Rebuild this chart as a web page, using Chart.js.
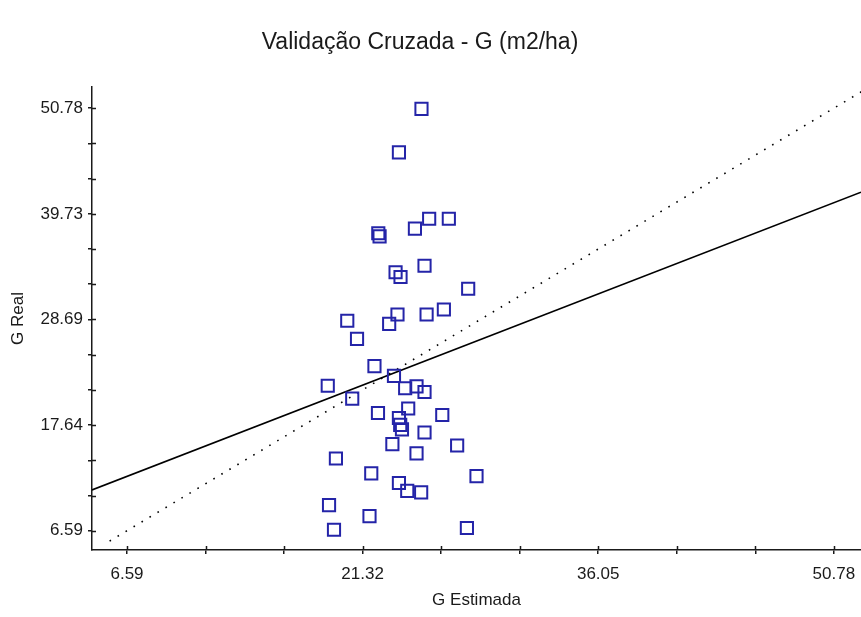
<!DOCTYPE html>
<html lang="pt">
<head>
<meta charset="utf-8">
<title>Validação Cruzada - G (m2/ha)</title>
<script src="https://cdn.jsdelivr.net/npm/chart.js@4/dist/chart.umd.min.js"></script>
<style>
  html, body { margin: 0; padding: 0; background: #ffffff; }
  #wrap { width: 861px; height: 617px; }
</style>
</head>
<body>
<div id="wrap"><canvas id="cv" width="861" height="617"></canvas></div>
<script>
// G estimated by cross-validation (x) against the measured G (y), m2/ha
const gEstimada = [
  25.00, 23.59, 25.48, 26.71, 24.59, 22.30, 22.38, 23.38, 23.69, 25.19,
  27.92, 20.36, 23.50, 22.98, 25.32, 26.40, 20.97, 22.06, 19.14, 23.28,
  20.67, 23.98, 24.69, 25.19, 22.28, 24.17, 26.30, 23.59, 23.67, 23.78,
  25.19, 23.18, 27.23, 24.69, 19.65, 21.86, 28.44, 23.59, 24.11, 24.98,
  19.22, 21.75, 19.53, 27.84
];
const gReal = [
  50.72, 46.17, 39.22, 39.22, 38.18, 37.70, 37.38, 33.62, 33.13, 34.30,
  31.90, 28.55, 29.20, 28.23, 29.20, 29.73, 26.66, 23.80, 21.75, 22.79,
  20.40, 21.49, 21.69, 21.10, 18.90, 19.37, 18.69, 18.38, 17.65, 17.18,
  16.86, 15.64, 15.50, 14.67, 14.14, 12.59, 12.29, 11.58, 10.76, 10.59,
  9.26, 8.11, 6.69, 6.87
];

// Fitted line (solid) and 1:1 reference line (dotted), as end points
const fitX = [4.40, 52.48];
const fitY = [10.85, 41.99];
const idX = [5.50, 53.00];
const idY = [5.50, 53.00];

// Axis ticks: labelled values plus the unlabelled intermediate marks
const xTicks = [6.59, 11.50, 16.41, 21.32, 26.23, 31.14, 36.05, 40.96, 45.87, 50.78];
const xTickLabels = ['6.59', '21.32', '36.05', '50.78'];
const yTicks = [6.59, 10.27, 13.95, 17.64, 21.32, 25.00, 28.69, 32.37, 36.05, 39.73, 43.42, 47.10, 50.78];
const yTickLabels = ['6.59', '17.64', '28.69', '39.73', '50.78'];

const chartTitle = 'Validação Cruzada - G (m2/ha)';

const AXIS = '#1a1a1a';
const TEXT = '#1a1a1a';
const FONT = "'Liberation Sans', Arial, sans-serif";

const toPoints = (xs, ys) => xs.map((x, i) => ({ x: x, y: ys[i] }));

// Title, centred a little left of the page centre
const titlePlugin = {
  id: 'titleText',
  afterDraw(chart) {
    const ctx = chart.ctx;
    ctx.save();
    ctx.fillStyle = TEXT;
    ctx.font = "23px " + FONT;
    ctx.textAlign = 'center';
    ctx.textBaseline = 'middle';
    ctx.fillText(chartTitle, 420, 43);
    ctx.restore();
  }
};

// Tick marks that cross the axis line: Chart.js draws the outer half,
// this adds the inner half.
const innerTicks = {
  id: 'innerTicks',
  afterDraw(chart) {
    const { ctx, chartArea, scales } = chart;
    ctx.save();
    ctx.strokeStyle = AXIS;
    ctx.lineWidth = 1.5;
    ctx.beginPath();
    scales.x.ticks.forEach(t => {
      const px = Math.round(scales.x.getPixelForValue(t.value)) + 0.5;
      ctx.moveTo(px, chartArea.bottom);
      ctx.lineTo(px, chartArea.bottom - 4);
    });
    scales.y.ticks.forEach(t => {
      const py = Math.round(scales.y.getPixelForValue(t.value)) + 0.5;
      ctx.moveTo(chartArea.left, py);
      ctx.lineTo(chartArea.left + 4, py);
    });
    ctx.stroke();
    ctx.restore();
  }
};

const noScalePadding = s => {
  s.paddingLeft = 0; s.paddingRight = 0; s.paddingTop = 0; s.paddingBottom = 0;
};

new Chart(document.getElementById('cv'), {
  type: 'scatter',
  data: {
    datasets: [
      {
        type: 'line',
        data: toPoints(fitX, fitY),
        borderColor: '#000000',
        borderWidth: 1.6,
        pointRadius: 0,
        fill: false,
        order: 1
      },
      {
        type: 'line',
        data: toPoints(idX, idY),
        borderColor: '#000000',
        borderWidth: 1.6,
        borderDash: [1.6, 7.7],
        pointRadius: 0,
        fill: false,
        order: 2
      },
      {
        data: toPoints(gEstimada, gReal),
        pointStyle: 'rect',
        pointRadius: 8.6,
        pointBorderWidth: 2,
        pointBorderColor: 'rgb(36,36,168)',
        pointBackgroundColor: 'rgba(0,0,0,0)',
        order: 0
      }
    ]
  },
  options: {
    responsive: false,
    animation: false,
    events: [],
    layout: { autoPadding: false, padding: { left: 0, right: 0, top: 87, bottom: 0 } },
    plugins: {
      legend: { display: false },
      tooltip: { enabled: false },
      title: { display: false }
    },
    scales: {
      x: {
        type: 'linear',
        position: 'bottom',
        min: 4.40,
        max: 52.48,
        afterBuildTicks: s => { s.ticks = xTicks.map(v => ({ value: v })); },
        afterFit: s => { s.height = 67; noScalePadding(s); },
        ticks: {
          autoSkip: false,
          maxRotation: 0,
          padding: 10,
          color: TEXT,
          font: { family: FONT, size: 17 },
          callback: v => { const l = v.toFixed(2); return xTickLabels.includes(l) ? l : ''; }
        },
        grid: { drawOnChartArea: false, drawTicks: true, tickLength: 4, color: AXIS, lineWidth: 1.5 },
        border: { display: true, color: AXIS, width: 1.5 },
        title: {
          display: true,
          text: 'G Estimada',
          color: TEXT,
          font: { family: FONT, size: 17 },
          padding: { top: 0, bottom: 6 }
        }
      },
      y: {
        type: 'linear',
        position: 'left',
        min: 4.57,
        max: 53.0,
        afterBuildTicks: s => { s.ticks = yTicks.map(v => ({ value: v })); },
        afterFit: s => { s.width = 92; noScalePadding(s); },
        ticks: {
          autoSkip: false,
          padding: 5,
          color: TEXT,
          font: { family: FONT, size: 17 },
          callback: v => { const l = v.toFixed(2); return yTickLabels.includes(l) ? l : ''; }
        },
        grid: { drawOnChartArea: false, drawTicks: true, tickLength: 4, color: AXIS, lineWidth: 1.5 },
        border: { display: true, color: AXIS, width: 1.5 },
        title: {
          display: true,
          text: 'G Real',
          color: TEXT,
          font: { family: FONT, size: 17 },
          padding: { top: 8, bottom: 0 }
        }
      }
    }
  },
  plugins: [innerTicks, titlePlugin]
});
</script>
</body>
</html>
